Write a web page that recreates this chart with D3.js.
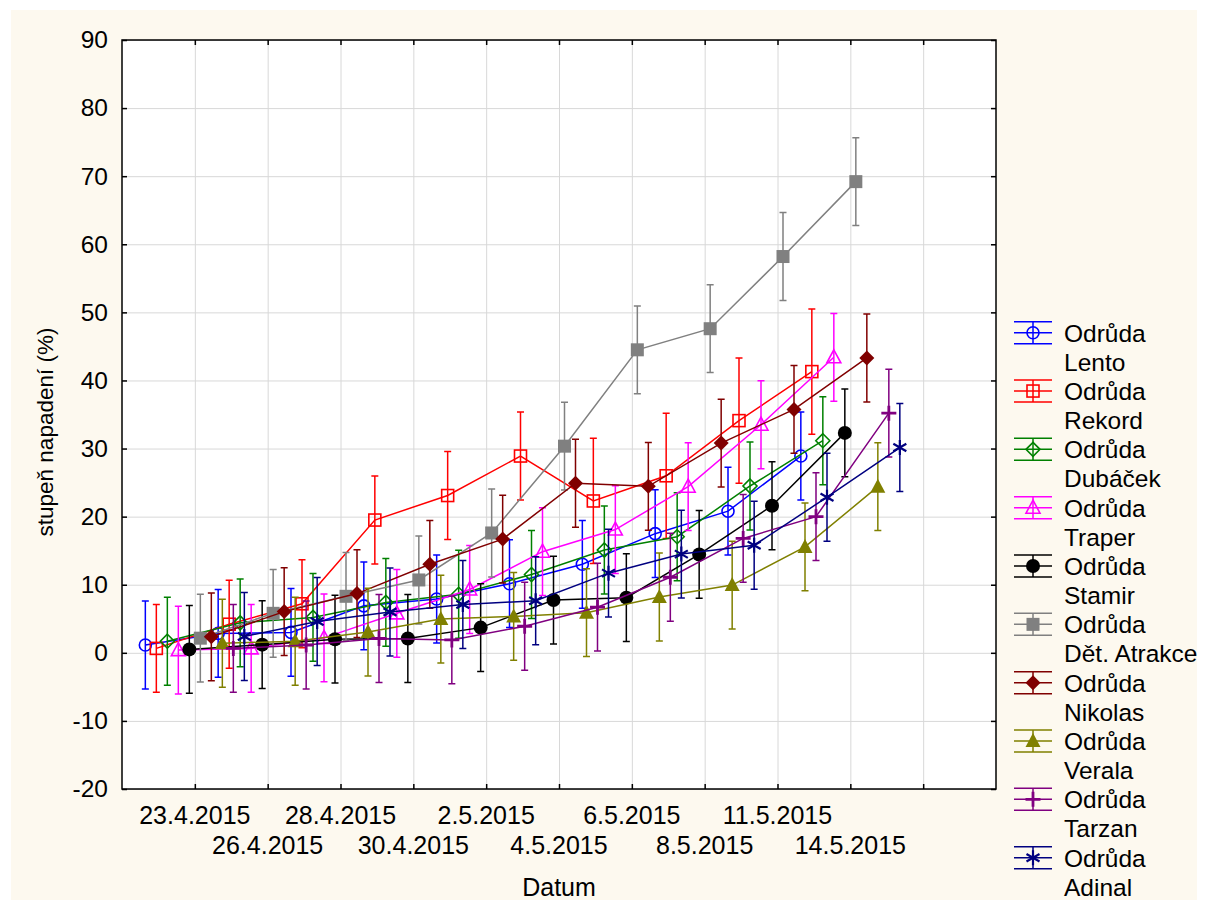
<!DOCTYPE html>
<html>
<head>
<meta charset="utf-8">
<script src="https://cdn.jsdelivr.net/npm/d3@7"></script>
<style>
  body { margin: 0; background: #fff; }
  svg { display: block; }
  text { font-family: "Liberation Sans", Arial, sans-serif; fill: #000; }
</style>
</head>
<body>
<div id="vis"></div>
<script>
// dates on the x axis
const dates = ["23.4.2015", "26.4.2015", "28.4.2015", "30.4.2015", "2.5.2015",
               "4.5.2015", "6.5.2015", "8.5.2015", "11.5.2015", "14.5.2015"];
const yTicks = [-20, -10, 0, 10, 20, 30, 40, 50, 60, 70, 80, 90];

const varieties = ["Lento", "Rekord", "Dubáček", "Traper", "Stamir",
                   "Dět. Atrakce", "Nikolas", "Verala", "Tarzan", "Adinal"];
const colors = ["#0000ff", "#ff0000", "#008000", "#ff00ff", "#000000",
                "#808080", "#800000", "#808000", "#800080", "#000080"];
const markers = ["circle", "square", "diamond", "triangle", "dot",
                 "block", "gem", "wedge", "plus", "asterisk"];

// mean values (%)
const lento   = [1.15, 2.85, 3.0, 6.9, 7.9, 10.15, 13.0, 17.5, 20.8, 28.9];
const rekord  = [0.65, 4.2, 7.2, 19.5, 23.1, 28.9, 22.3, 26.0, 34.1, 41.3];
const dubacek = [1.7, 4.4, 5.2, 7.4, 8.6, 11.5, 15.1, 17.05, 24.5, 31.15];
const traper  = [0.4, 0.65, 2.2, 5.8, 9.3, 14.85, 18.1, 24.4, 33.5, 43.4];
const stamir  = [0.5, 1.2, 2.0, 2.1, 3.7, 7.75, 8.1, 14.45, 21.6, 32.3];
const atrakce = [2.15, 5.8, 8.3, 10.7, 17.6, 30.35, 44.5, 47.6, 58.2, 69.2];
const nikolas = [2.35, 6.05, 8.7, 13.0, 16.7, 24.9, 24.45, 30.8, 35.75, 43.3];
const verala  = [1.4, 1.7, 3.05, 4.95, 5.35, 5.9, 8.2, 9.95, 15.55, 24.4];
const tarzan  = [0.65, 1.15, 2.1, 1.9, 3.9, 6.7, 11.1, 16.8, 20.0, 35.2];
const adinal  = [2.4, 4.6, 6.0, 7.1, 7.65, 11.7, 14.5, 15.8, 22.85, 30.15];

// half widths of the vertical error bars
const errLento   = [6.45, 6.45, 6.45, 6.45, 6.45, 6.45, 6.45, 6.45, 6.45, 6.45];
const errRekord  = [6.45, 6.45, 6.45, 6.45, 6.45, 6.45, 9.2, 9.2, 9.2, 9.2];
const errDubacek = [6.45, 6.45, 6.45, 6.45, 6.45, 6.45, 6.45, 6.45, 6.45, 6.45];
const errTraper  = [6.45, 6.45, 6.45, 6.45, 6.45, 6.45, 6.45, 6.45, 6.45, 6.45];
const errStamir  = [6.45, 6.45, 6.45, 6.45, 6.45, 6.45, 6.45, 6.45, 6.45, 6.45];
const errAtrakce = [6.45, 6.45, 6.45, 6.45, 6.45, 6.45, 6.45, 6.45, 6.45, 6.45];
const errNikolas = [6.45, 6.45, 6.45, 6.45, 6.45, 6.45, 6.45, 6.45, 6.45, 6.45];
const errVerala  = [6.45, 6.45, 6.45, 6.45, 6.45, 6.45, 6.45, 6.45, 6.45, 6.45];
const errTarzan  = [6.45, 6.45, 6.45, 6.45, 6.45, 6.45, 6.45, 6.45, 6.45, 6.45];
const errAdinal  = [6.45, 6.45, 6.45, 6.45, 6.45, 6.45, 6.45, 6.45, 6.45, 6.45];

const means = [lento, rekord, dubacek, traper, stamir, atrakce, nikolas, verala, tarzan, adinal];
const errs = [errLento, errRekord, errDubacek, errTraper, errStamir,
              errAtrakce, errNikolas, errVerala, errTarzan, errAdinal];

const W = 1208, H = 910;
const plot = {left: 122, top: 40, right: 996, bottom: 789};

const svg = d3.select('#vis').append('svg')
    .attr('width', W)
    .attr('height', H);

svg.append('rect')
    .attr('x', 11).attr('y', 10)
    .attr('width', W - 22).attr('height', H - 20)
    .attr('fill', '#fdf9ef');

// x is a position index: dates sit on 1..10, the domain runs 0..12
let xScale = d3.scaleLinear().domain([0, 12]).range([plot.left, plot.right]);
let yScale = d3.scaleLinear().domain([-20, 90]).range([plot.bottom, plot.top]);
let dodge = d3.scalePoint().domain(varieties).range([-49.5, 49.5]);

const xTickVals = d3.range(1, 12);

svg.append('rect')
    .attr('x', plot.left).attr('y', plot.top)
    .attr('width', plot.right - plot.left).attr('height', plot.bottom - plot.top)
    .attr('fill', '#fff');

// grid
const grid = svg.append('g').attr('class', 'grid');
grid.append('g')
    .attr('transform', `translate(0,${plot.bottom})`)
    .call(d3.axisBottom(xScale).tickValues(xTickVals).tickSize(-(plot.bottom - plot.top)).tickFormat(''))
    .call(g => g.select('.domain').remove());
grid.append('g')
    .attr('transform', `translate(${plot.left},0)`)
    .call(d3.axisLeft(yScale).tickValues(yTicks).tickSize(-(plot.right - plot.left)).tickFormat(''))
    .call(g => g.select('.domain').remove());
grid.selectAll('line').attr('stroke', '#d8d8d8').attr('stroke-width', 1);

// axes with inward ticks
const tickLen = 5;
let xAxis = svg.append('g')
    .attr('transform', `translate(0,${plot.bottom})`)
    .call(d3.axisBottom(xScale).tickValues(xTickVals).tickSize(-tickLen).tickFormat(''));
let xAxisTop = svg.append('g')
    .attr('transform', `translate(0,${plot.top})`)
    .call(d3.axisTop(xScale).tickValues(xTickVals).tickSize(-tickLen).tickFormat(''));
let yAxis = svg.append('g')
    .attr('transform', `translate(${plot.left},0)`)
    .call(d3.axisLeft(yScale).tickValues(yTicks).tickSize(-tickLen).tickPadding(14).tickFormat(d => String(d)));
let yAxisRight = svg.append('g')
    .attr('transform', `translate(${plot.right},0)`)
    .call(d3.axisRight(yScale).tickValues(yTicks).tickSize(-tickLen).tickFormat(''));

[xAxis, xAxisTop, yAxis, yAxisRight].forEach(a => {
    a.select('.domain').remove();
    a.selectAll('line').attr('stroke', '#000').attr('stroke-width', 1.5);
});
yAxis.selectAll('text')
    .style('font-size', '24.5px')
    .attr('fill', '#000');

// staggered date labels
svg.append('g').selectAll('text')
    .data(dates)
    .join('text')
    .attr('x', (d, i) => xScale(i + 1))
    .attr('y', (d, i) => i % 2 === 0 ? 824 : 854)
    .attr('text-anchor', 'middle')
    .style('font-size', '25px')
    .text(d => d);

// frame
svg.append('rect')
    .attr('x', plot.left).attr('y', plot.top)
    .attr('width', plot.right - plot.left).attr('height', plot.bottom - plot.top)
    .attr('fill', 'none')
    .attr('stroke', '#000')
    .attr('stroke-width', 1.5);

svg.append('text')
    .attr('x', (plot.left + plot.right) / 2)
    .attr('y', 896)
    .attr('text-anchor', 'middle')
    .style('font-size', '25px')
    .text('Datum');

svg.append('text')
    .attr('transform', 'rotate(-90)')
    .attr('x', -432)
    .attr('y', 53)
    .attr('text-anchor', 'middle')
    .style('font-size', '22.5px')
    .text('stupeň napadení (%)');

// marker painter
function drawMarker(g, kind, color) {
    const sw = 1.6;
    switch (kind) {
        case 'circle':
            g.append('circle').attr('r', 6).attr('fill', 'none').attr('stroke', color).attr('stroke-width', sw); break;
        case 'square':
            g.append('rect').attr('x', -6).attr('y', -6).attr('width', 12).attr('height', 12)
                .attr('fill', 'none').attr('stroke', color).attr('stroke-width', sw); break;
        case 'diamond':
            g.append('path').attr('d', 'M0,-7L7,0L0,7L-7,0Z').attr('fill', 'none').attr('stroke', color).attr('stroke-width', sw); break;
        case 'triangle':
            g.append('path').attr('d', 'M0,-7.5L7,5.5L-7,5.5Z').attr('fill', 'none').attr('stroke', color).attr('stroke-width', sw); break;
        case 'dot':
            g.append('circle').attr('r', 7).attr('fill', color); break;
        case 'block':
            g.append('rect').attr('x', -6.5).attr('y', -6.5).attr('width', 13).attr('height', 13).attr('fill', color); break;
        case 'gem':
            g.append('path').attr('d', 'M0,-7.5L7.5,0L0,7.5L-7.5,0Z').attr('fill', color); break;
        case 'wedge':
            g.append('path').attr('d', 'M0,-8L7.5,6L-7.5,6Z').attr('fill', color); break;
        case 'plus':
            g.append('path').attr('d', 'M-7.5,0H7.5M0,-7.5V7.5').attr('stroke', color).attr('stroke-width', 2.8); break;
        case 'asterisk':
            g.append('path').attr('d', 'M0,-7.5V7.5M-6.5,-3.75L6.5,3.75M-6.5,3.75L6.5,-3.75')
                .attr('stroke', color).attr('stroke-width', 2.2); break;
    }
}

const capW = 3.5;
const series = varieties.map((name, s) => ({
    name, color: colors[s], marker: markers[s],
    points: means[s].map((v, k) => ({k, v, e: errs[s][k]}))
}));

const line = d3.line()
    .x(d => xScale(d.k + 1))
    .y(d => yScale(d.v));

series.forEach(sr => {
    const g = svg.append('g').attr('transform', `translate(${dodge(sr.name)},0)`);
    g.append('path')
        .datum(sr.points)
        .attr('d', line)
        .attr('fill', 'none')
        .attr('stroke', sr.color)
        .attr('stroke-width', 1.5);
    g.selectAll('.bar')
        .data(sr.points)
        .join('path')
        .attr('class', 'bar')
        .attr('d', d => {
            const x = xScale(d.k + 1), y0 = yScale(d.v - d.e), y1 = yScale(d.v + d.e);
            return `M${x},${y0}V${y1}M${x - capW},${y1}H${x + capW}M${x - capW},${y0}H${x + capW}`;
        })
        .attr('fill', 'none')
        .attr('stroke', sr.color)
        .attr('stroke-width', 1.5);
    g.selectAll('.mk')
        .data(sr.points)
        .join('g')
        .attr('class', 'mk')
        .attr('transform', d => `translate(${xScale(d.k + 1)},${yScale(d.v)})`)
        .each(function () { drawMarker(d3.select(this), sr.marker, sr.color); });
});

// legend
const legendY = d3.scalePoint().domain(varieties).range([332.7, 857.7]);
const legend = svg.append('g');
series.forEach(sr => {
    const cy = legendY(sr.name);
    const item = legend.append('g').attr('transform', `translate(1033,${cy})`);
    item.append('path')
        .attr('d', 'M-19,-11H19M-19,0H19M-19,11H19M0,-11V11')
        .attr('stroke', sr.color)
        .attr('stroke-width', 1.5)
        .attr('fill', 'none');
    drawMarker(item, sr.marker, sr.color);
    legend.append('text')
        .attr('x', 1064).attr('y', cy + 9)
        .style('font-size', '24.5px')
        .text('Odrůda');
    legend.append('text')
        .attr('x', 1064).attr('y', cy + 38)
        .style('font-size', '24.5px')
        .text(sr.name);
});
</script>
</body>
</html>
